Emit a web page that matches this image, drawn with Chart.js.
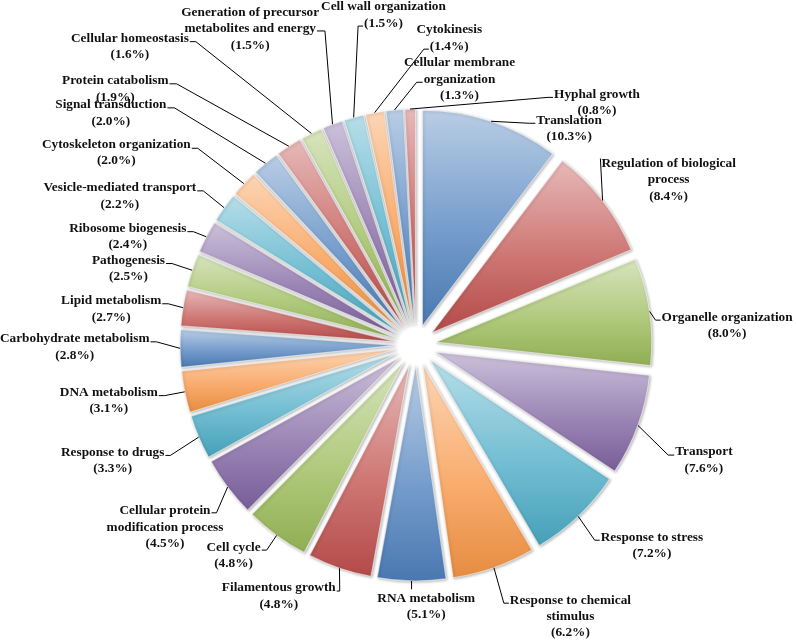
<!DOCTYPE html>
<html>
<head>
<meta charset="utf-8">
<script src="https://cdn.jsdelivr.net/npm/chart.js@4.4.0/dist/chart.umd.min.js"></script>
<style>
  html, body { margin: 0; padding: 0; background: #fff; }
  #wrap { width: 796px; height: 641px; position: relative; }
</style>
</head>
<body>
<div id="wrap"><canvas id="goChart"></canvas></div>
<script>
// 类别（\n 为标签换行）
const categories = [
    'Translation', 'Regulation of biological\nprocess', 'Organelle organization', 'Transport',
    'Response to stress', 'Response to chemical\nstimulus', 'RNA metabolism', 'Filamentous growth',
    'Cell cycle', 'Cellular protein\nmodification process', 'Response to drugs', 'DNA metabolism',
    'Carbohydrate metabolism', 'Lipid metabolism', 'Pathogenesis', 'Ribosome biogenesis',
    'Vesicle-mediated transport', 'Cytoskeleton organization', 'Signal transduction', 'Protein catabolism',
    'Cellular homeostasis', 'Generation of precursor\nmetabolites and energy', 'Cell wall organization', 'Cytokinesis',
    'Cellular membrane\norganization', 'Hyphal growth'
];
// 百分比
const percentages = [
    10.3, 8.4, 8.0, 7.6, 7.2, 6.2, 5.1, 4.8, 4.8, 4.5, 3.3, 3.1, 2.8,
    2.7, 2.5, 2.4, 2.2, 2.0, 2.0, 1.9, 1.6, 1.5, 1.5, 1.4, 1.3, 0.8
];

// Office 配色，循环使用
const baseColors = ['#4F81BD', '#C0504D', '#9BBB59', '#8064A2', '#4BACC6', '#F79646'];

// 标签布局：[dx, dy, 连线所在行, 连线在哪一侧, 折线长度, 连接点竖向偏移]
// dx/dy 是文字第一行中心相对扇区外缘中点的偏移
const labelLayout = [
    [78, -1, 0, 'l', 6, 3],
    [66, -37, 0, 'l', 0, -5],
    [77.5, 5.8, 0, 'l', 5, 3],
    [66, 26.7, 0, 'l', 6, 3],
    [73.7, 20.8, 0, 'l', 5, 3],
    [76.5, 32.4, 0, 'l', 5, 3],
    [14.7, 17.3, 0, 't', 0, 0],
    [-60.7, 19.8, 0, 'r', 3, 3],
    [-43, 11.7, 0, 'r', 5, 3],
    [-62.6, 23.7, 0, 'r', 5, 2],
    [-86, 15.3, 0, 'r', 5, 3],
    [-75.9, 0.8, 0, 'r', 6, 3],
    [-105.3, -9.5, 0, 'r', 6, 3],
    [-71.8, -6.9, 0, 'r', 6, 3],
    [-63.7, -9.7, 0, 'r', 6, 3],
    [-78.5, -8.1, 0, 'r', 6, 3],
    [-104.2, -19.8, 0, 'r', 6, 3],
    [-127.5, -39.3, 0, 'r', 6, 4],
    [-154.6, -58.4, 0, 'r', 7, 3],
    [-173.5, -65.4, 0, 'r', 7, 3],
    [-181.5, -94.8, 0, 'r', 6, 3],
    [-82.3, -111.7, 1, 'r', 8, 2],
    [29.8, -110.7, 1, 'l', 5, 3],
    [74.6, -82.9, 1, 'l', 5, 3],
    [65, -47.1, 1, 'l', 6, 3],
    [186.9, -14.7, 0, 'l', 5, 3]
];

const EXPLODE = 20;
const LABEL_FONT = 'bold 13.3px "Liberation Serif", "Times New Roman", serif';
const LINE_H = 16.4;

function hexToRgb(hex) {
    const n = parseInt(hex.slice(1), 16);
    return [(n >> 16) & 255, (n >> 8) & 255, n & 255];
}
function mixWhite(hex, t) {
    const c = hexToRgb(hex).map(v => Math.round(v + (255 - v) * t));
    return `rgb(${c[0]},${c[1]},${c[2]})`;
}
function shade(hex, f) {
    const c = hexToRgb(hex).map(v => Math.round(v * f));
    return `rgb(${c[0]},${c[1]},${c[2]})`;
}

// 扇区分离 + 每个扇区上浅下深的渐变
const explodePlugin = {
    id: 'explode',
    afterDatasetsUpdate(chart) {
        const meta = chart.getDatasetMeta(0);
        const ctx = chart.ctx;
        meta.data.forEach((arc, i) => {
            const s = arc.startAngle, e = arc.endAngle;
            const mid = (s + e) / 2;
            arc.x += Math.cos(mid) * EXPLODE;
            arc.y += Math.sin(mid) * EXPLODE;

            const r = arc.outerRadius;
            const ys = [arc.y, arc.y + r * Math.sin(s), arc.y + r * Math.sin(e)];
            [-Math.PI / 2, Math.PI / 2, Math.PI * 1.5].forEach(k => {
                if (k >= s && k <= e) ys.push(arc.y + r * Math.sin(k));
            });
            const top = Math.min(...ys), bottom = Math.max(...ys);
            const base = baseColors[i % baseColors.length];
            const g = ctx.createLinearGradient(0, top, 0, bottom + 0.01);
            g.addColorStop(0, mixWhite(base, 0.6));
            g.addColorStop(0.55, mixWhite(base, 0.22));
            g.addColorStop(1, shade(base, 0.93));
            arc.options = Object.assign({}, arc.options, { backgroundColor: g });
        });
    }
};

// 阴影
const shadowPlugin = {
    id: 'sliceShadow',
    beforeDatasetsDraw(chart) {
        const c = chart.ctx;
        c.save();
        c.shadowColor = 'rgba(0,0,0,0.3)';
        c.shadowBlur = 3;
        c.shadowOffsetX = 1;
        c.shadowOffsetY = 1;
    },
    afterDatasetsDraw(chart) {
        chart.ctx.restore();
    }
};

// 外部标签和引线
const labelPlugin = {
    id: 'outLabels',
    afterDraw(chart) {
        const ctx = chart.ctx;
        const meta = chart.getDatasetMeta(0);
        ctx.save();
        ctx.font = LABEL_FONT;
        ctx.textAlign = 'center';
        ctx.textBaseline = 'middle';
        ctx.strokeStyle = '#000';
        ctx.lineWidth = 1;
        ctx.fillStyle = '#111';

        meta.data.forEach((arc, i) => {
            const mid = (arc.startAngle + arc.endAngle) / 2;
            const ex = arc.x + Math.cos(mid) * arc.outerRadius;
            const ey = arc.y + Math.sin(mid) * arc.outerRadius;
            const [dx, dy, li, side, hook, ay] = labelLayout[i];
            const tx = ex + dx, ty = ey + dy;
            const lines = categories[i].split('\n').concat(`(${percentages[i].toFixed(1)}%)`);

            // 引线
            ctx.beginPath();
            ctx.moveTo(ex, ey);
            if (side === 't') {
                ctx.lineTo(ex, ty - 9);
            } else {
                const w = ctx.measureText(lines[li]).width;
                const ly = ty + li * LINE_H + ay;
                const ax = side === 'r' ? tx + w / 2 + 1 : tx - w / 2 - 1;
                const bx = side === 'r' ? ax + hook : ax - hook;
                ctx.lineTo(bx, ly);
                ctx.lineTo(ax, ly);
            }
            ctx.stroke();

            lines.forEach((t, k) => ctx.fillText(t, tx, ty + k * LINE_H));
        });
        ctx.restore();
    }
};

new Chart(document.getElementById('goChart'), {
    type: 'pie',
    data: {
        labels: categories.map(c => c.replace('\n', ' ')),
        datasets: [{
            data: percentages,
            backgroundColor: percentages.map((v, i) => baseColors[i % baseColors.length]),
            borderColor: 'rgba(255,255,255,0.55)',
            borderWidth: 1.2,
            hoverOffset: 0
        }]
    },
    options: {
        responsive: true,
        maintainAspectRatio: false,
        animation: false,
        radius: 216,
        rotation: 0,
        layout: { padding: { left: 40, right: 4, top: 50, bottom: 1 } },
        plugins: {
            legend: { display: false },
            tooltip: { enabled: true }
        }
    },
    plugins: [explodePlugin, shadowPlugin, labelPlugin]
});
</script>
</body>
</html>
